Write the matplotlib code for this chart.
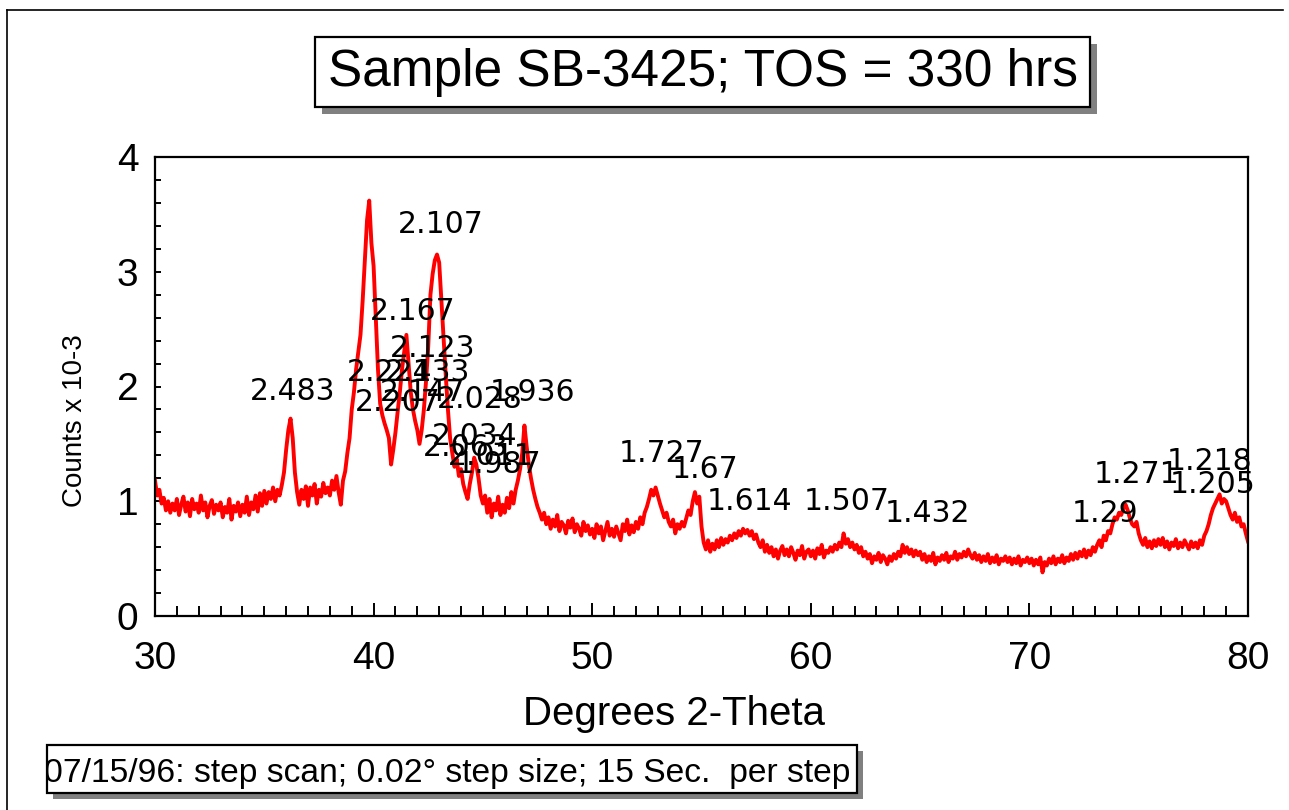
import numpy as np
import matplotlib.pyplot as plt
from matplotlib.patches import Rectangle
from matplotlib.lines import Line2D

# step scan, every 0.1 deg (counts x 10^-3)
two_theta_start = 30.0
two_theta_end = 80.0
counts = [
    1.18, 1.05, 1.10, 0.98, 1.03, 0.92, 1.00, 0.90, 0.98, 0.92,
    1.02, 0.88, 0.97, 1.04, 0.91, 0.99, 0.87, 1.02, 0.93, 0.98,
    0.90, 1.05, 0.92, 0.99, 0.86, 0.96, 1.01, 0.89, 0.97, 0.92,
    0.99, 0.86, 0.95, 0.90, 1.02, 0.84, 0.96, 0.91, 0.99, 0.87,
    0.97, 0.90, 1.04, 0.88, 0.99, 0.93, 1.05, 0.91, 1.07, 0.96,
    1.09, 0.98, 1.08, 1.02, 1.12, 1.00, 1.10, 1.05, 1.14, 1.25,
    1.45, 1.62, 1.72, 1.55, 1.25, 1.08, 0.97, 1.10, 1.02, 1.13,
    0.96, 1.12, 1.05, 1.15, 0.98, 1.10, 1.04, 1.16, 1.07, 1.12,
    1.05, 1.18, 1.10, 1.22, 1.08, 0.97, 1.18, 1.26, 1.42, 1.55,
    1.80, 1.95, 2.15, 2.30, 2.45, 2.75, 3.10, 3.45, 3.62, 3.25,
    3.05, 2.60, 2.15, 1.85, 1.75, 1.68, 1.62, 1.55, 1.32, 1.45,
    1.60, 1.78, 1.95, 2.15, 2.30, 2.45, 2.20, 1.95, 1.80, 1.70,
    1.62, 1.50, 1.62, 1.80, 2.05, 2.35, 2.80, 2.98, 3.10, 3.15,
    3.08, 2.75, 2.42, 2.10, 1.80, 1.55, 1.42, 1.30, 1.37, 1.22,
    1.28, 1.15, 1.08, 1.02, 1.15, 1.25, 1.38, 1.32, 1.20, 1.05,
    0.98, 1.05, 0.90, 1.02, 0.86, 0.98, 0.92, 1.04, 0.88, 0.97,
    0.90, 1.03, 0.94, 1.08, 0.98, 1.10, 1.18, 1.28, 1.42, 1.66,
    1.48, 1.32, 1.20, 1.10, 1.02, 0.95, 0.90, 0.84, 0.90, 0.80,
    0.86, 0.76, 0.84, 0.78, 0.88, 0.74, 0.82, 0.79, 0.72, 0.83,
    0.77, 0.85, 0.73, 0.80, 0.76, 0.70, 0.82, 0.74, 0.79, 0.71,
    0.76, 0.68, 0.80, 0.72, 0.78, 0.66, 0.74, 0.82, 0.70, 0.76,
    0.69, 0.78, 0.72, 0.66, 0.80, 0.74, 0.84, 0.71, 0.79, 0.73,
    0.82, 0.76, 0.86, 0.80, 0.90, 0.95, 1.02, 1.10, 1.05, 1.12,
    1.05, 0.98, 0.92, 0.86, 0.90, 0.82, 0.78, 0.84, 0.72, 0.80,
    0.76, 0.82, 0.78, 0.85, 0.92, 0.88, 1.00, 1.08, 0.98, 1.04,
    0.78, 0.64, 0.58, 0.66, 0.56, 0.63, 0.58, 0.66, 0.60, 0.68,
    0.62, 0.67, 0.64, 0.70, 0.66, 0.72, 0.68, 0.74, 0.70, 0.76,
    0.72, 0.75, 0.70, 0.74, 0.67, 0.71, 0.64, 0.60, 0.66, 0.56,
    0.62, 0.55, 0.60, 0.52, 0.58, 0.50, 0.57, 0.61, 0.53, 0.58,
    0.52, 0.60, 0.55, 0.49, 0.57, 0.53, 0.61, 0.50, 0.56, 0.58,
    0.52, 0.57, 0.50, 0.59, 0.54, 0.62, 0.51, 0.57, 0.55, 0.60,
    0.56, 0.62, 0.58, 0.64, 0.60, 0.72, 0.63, 0.67, 0.60, 0.64,
    0.58, 0.62, 0.55, 0.60, 0.52, 0.56, 0.50, 0.54, 0.46, 0.52,
    0.49, 0.55, 0.47, 0.53, 0.50, 0.45, 0.52, 0.48, 0.54, 0.50,
    0.56, 0.52, 0.62, 0.55, 0.60, 0.54, 0.58, 0.52, 0.57, 0.53,
    0.56, 0.49, 0.54, 0.47, 0.52, 0.48, 0.55, 0.45, 0.51, 0.48,
    0.53, 0.49, 0.55, 0.47, 0.52, 0.50, 0.56, 0.49, 0.54, 0.51,
    0.56, 0.52, 0.58, 0.53, 0.50, 0.55, 0.49, 0.53, 0.47, 0.52,
    0.48, 0.54, 0.46, 0.51, 0.47, 0.53, 0.45, 0.50, 0.48, 0.52,
    0.47, 0.51, 0.45, 0.50, 0.46, 0.52, 0.44, 0.49, 0.47, 0.51,
    0.46, 0.50, 0.44, 0.49, 0.45, 0.51, 0.38, 0.47, 0.44, 0.50,
    0.46, 0.52, 0.45, 0.50, 0.47, 0.53, 0.46, 0.51, 0.48, 0.54,
    0.49, 0.55, 0.50, 0.56, 0.52, 0.58, 0.51, 0.57, 0.53, 0.60,
    0.56, 0.62, 0.66, 0.60, 0.70, 0.66, 0.74, 0.72, 0.80, 0.86,
    0.84, 0.90, 0.88, 0.94, 0.97, 0.92, 0.85, 0.80, 0.78, 0.82,
    0.72, 0.66, 0.62, 0.68, 0.60, 0.65, 0.59, 0.66, 0.61, 0.67,
    0.62, 0.68, 0.60, 0.65, 0.58, 0.64, 0.61, 0.67, 0.59, 0.64,
    0.60, 0.66, 0.62, 0.58, 0.65, 0.60, 0.64, 0.59, 0.66, 0.62,
    0.70, 0.74, 0.80, 0.88, 0.94, 0.98, 1.02, 1.06, 0.98, 1.02,
    1.00, 0.94, 0.88, 0.84, 0.90, 0.82, 0.86, 0.78, 0.80, 0.72,
    0.65,
]

# d-spacing labels and where they sit (2-theta, counts)
peak_labels = ['2.483', '2.107', '2.167', '2.123', '2.224', '2.133', '2.147',
               '2.207', '2.028', '1.936', '2.034', '2.063', '2.011', '1.987',
               '1.727', '1.67', '1.614', '1.507', '1.432', '1.271', '1.218',
               '1.205', '1.29']
label_x = [34.35, 41.13, 39.84, 40.75, 38.77, 40.52, 40.30,
           39.15, 42.89, 45.32, 42.65, 42.27, 43.40, 43.75,
           51.19, 53.63, 55.23, 59.66, 63.39, 72.92, 76.28,
           76.43, 71.93]
label_y = [1.88, 3.34, 2.58, 2.26, 2.05, 2.05, 1.87,
           1.79, 1.81, 1.87, 1.49, 1.39, 1.32, 1.25,
           1.34, 1.20, 0.92, 0.92, 0.82, 1.16, 1.27,
           1.07, 0.82]

W, H = 1289, 810

def fx(px):
    return px / W

def fy(py):
    return 1 - py / H

def shadow_box(fig, x0, y0, x1, y1, off):
    sh = Rectangle((fx(x0 + off), fy(y1 + off)), (x1 - x0) / W, (y1 - y0) / H,
                   transform=fig.transFigure, facecolor='#808080', edgecolor='none', zorder=1)
    box = Rectangle((fx(x0), fy(y1)), (x1 - x0) / W, (y1 - y0) / H,
                    transform=fig.transFigure, facecolor='white', edgecolor='black',
                    linewidth=1.6, zorder=2)
    fig.add_artist(sh)
    fig.add_artist(box)
    return box

plt.rcParams['font.family'] = ['Liberation Sans', 'DejaVu Sans']

fig = plt.figure(figsize=(12.89, 8.10), dpi=100)
ax = fig.add_axes([fx(155), fy(616), (1248 - 155) / W, (616 - 157) / H])

two_theta = np.linspace(two_theta_start, two_theta_end, len(counts))
ax.plot(two_theta, counts, color='#ff0000', linewidth=2.8)

for lab, x, y in zip(peak_labels, label_x, label_y):
    ax.text(x, y, lab, fontsize=21.5, family='DejaVu Sans', ha='left', va='baseline', color='black')

ax.set_xlim(30, 80)
ax.set_ylim(0, 4)
ax.set_xticks([30, 40, 50, 60, 70, 80])
ax.set_xticks(np.arange(30, 81, 1), minor=True)
ax.set_yticks([0, 1, 2, 3, 4])
ax.set_yticks(np.arange(0, 4.01, 0.2), minor=True)
ax.tick_params(axis='x', which='major', direction='in', length=9.5, width=1.4, labelsize=28, pad=18)
ax.tick_params(axis='x', which='minor', direction='in', length=7, width=1.4)
ax.tick_params(axis='y', which='both', direction='in', length=4.5, width=1.4, labelsize=28, pad=12)
for s in ax.spines.values():
    s.set_linewidth(1.6)

fig.text(fx(674), fy(725), 'Degrees 2-Theta', fontsize=29, ha='center', va='baseline')
fig.text(fx(75), fy(421), 'Counts x 10-3', fontsize=20, rotation=90, ha='center', va='center')

# title box with drop shadow
shadow_box(fig, 315, 37, 1090, 107, 7)
fig.text(fx(703), fy(86), 'Sample SB-3425; TOS = 330 hrs', fontsize=37,
         ha='center', va='baseline', zorder=3)

# footnote box
fbox = shadow_box(fig, 47, 745, 857, 793, 6)
note = fig.text(fx(44), fy(782), '07/15/96: step scan; 0.02\u00b0 step size; 15 Sec.  per step',
                fontsize=24.2, ha='left', va='baseline', zorder=3)
note.set_clip_path(fbox)

# page frame
fig.add_artist(Line2D([fx(7), fx(7)], [fy(10), 0], transform=fig.transFigure, color='black', linewidth=1.2))
fig.add_artist(Line2D([fx(7), fx(1283)], [fy(10), fy(10)], transform=fig.transFigure, color='black', linewidth=1.2))

fig.savefig('out.png', dpi=100)
